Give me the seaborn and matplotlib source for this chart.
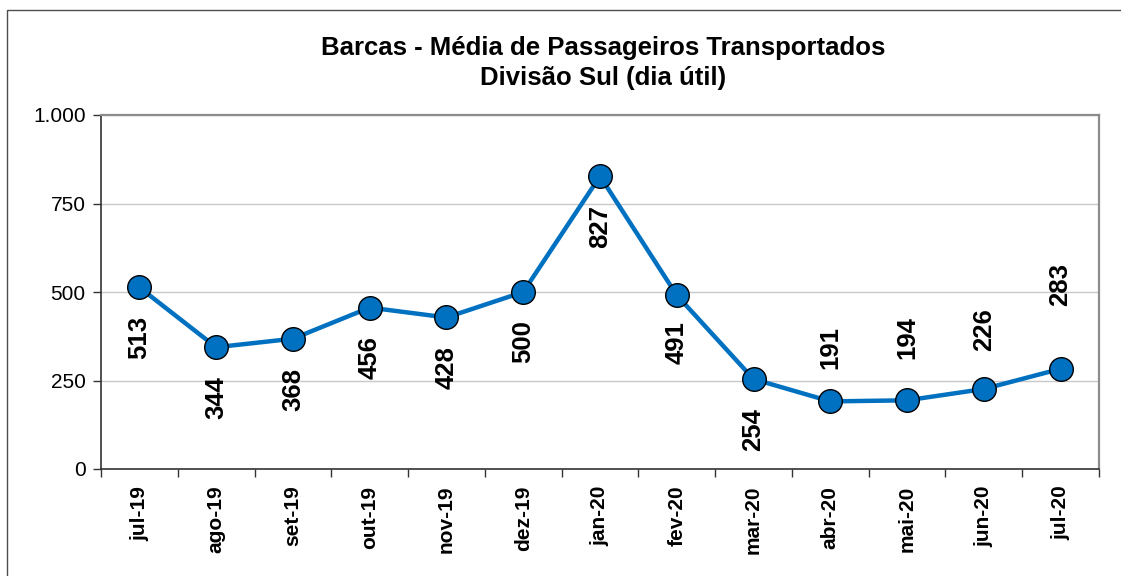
import matplotlib
matplotlib.use("Agg")
import matplotlib.pyplot as plt
from matplotlib.patches import Rectangle
from matplotlib.ticker import FuncFormatter, FixedLocator
import seaborn as sns
import pandas as pd

months = ["jul-19", "ago-19", "set-19", "out-19", "nov-19", "dez-19", "jan-20",
          "fev-20", "mar-20", "abr-20", "mai-20", "jun-20", "jul-20"]
passageiros = [513, 344, 368, 456, 428, 500, 827, 491, 254, 191, 194, 226, 283]
# label offset from the point, in points (negative = below the marker)
label_offset = [-20.5, -21, -21, -20.5, -20.5, -20.5, -21, -18.5, -21,
                23, 30, 27, 45]

df = pd.DataFrame({"mes": months, "valor": passageiros})
df["pos"] = range(len(df))

sns.set_theme(style="white")
plt.rcParams["font.family"] = ["Liberation Sans", "DejaVu Sans"]
plt.rcParams["text.color"] = "black"
plt.rcParams["xtick.color"] = "black"
plt.rcParams["ytick.color"] = "black"

fig = plt.figure(figsize=(11.21, 5.76), dpi=100)
ax = fig.add_axes([101 / 1121, 1 - 469 / 576, 998 / 1121, (469 - 115) / 576])

blue = "#0070C0"
sns.lineplot(data=df, x="pos", y="valor", ax=ax, color=blue, linewidth=3.2,
             marker="o", markersize=17, markerfacecolor=blue,
             markeredgecolor="black", markeredgewidth=1.0, zorder=3)

for i, (v, off) in enumerate(zip(passageiros, label_offset)):
    ax.annotate(f"{v}", (i, v), xytext=(0, off), textcoords="offset points",
                rotation=90, ha="center", va="top" if off < 0 else "bottom",
                fontsize=18.5, fontweight="bold", color="black", zorder=4)

ax.set_xlim(-0.5, len(months) - 0.5)
ax.set_ylim(0, 1000)
ax.set_yticks([0, 250, 500, 750, 1000])
ax.yaxis.set_major_formatter(FuncFormatter(lambda v, p: f"{int(v):,}".replace(",", ".")))
ax.grid(axis="y", color="#c8c8c8", linewidth=1.0)
ax.set_axisbelow(True)

ax.set_xticks(range(len(months)))
ax.set_xticklabels(months, rotation=90, fontweight="bold", fontsize=15)
ax.xaxis.set_minor_locator(FixedLocator([i - 0.5 for i in range(len(months) + 1)]))
ax.tick_params(axis="x", which="major", length=0, pad=12)
ax.tick_params(axis="x", which="minor", length=6, width=1, color="#333333", direction="out")
ax.tick_params(axis="y", length=6, width=1, color="#333333", direction="out",
               labelsize=15, pad=5)
ax.tick_params(axis="y", which="major", left=True)
ax.tick_params(axis="x", which="minor", bottom=True)

for side in ["left", "bottom"]:
    ax.spines[side].set_color("#333333")
    ax.spines[side].set_linewidth(1.2)
for side in ["top", "right"]:
    ax.spines[side].set_color("#8c8c8c")
    ax.spines[side].set_linewidth(1.6)

ax.set_xlabel("")
ax.set_ylabel("")

fig.text(603 / 1121, 1 - 48 / 576, "Barcas - Média de Passageiros Transportados",
         ha="center", va="center", fontsize=18.5, fontweight="bold")
fig.text(603 / 1121, 1 - 78 / 576, "Divisão Sul (dia útil)",
         ha="center", va="center", fontsize=18.5, fontweight="bold")

fig.patches.append(Rectangle((7 / 1121, -0.05), 1.1, 1 - 10 / 576 + 0.05,
                             transform=fig.transFigure, fill=False,
                             edgecolor="#4d4d4d", linewidth=1.0))

fig.savefig("out.png", dpi=100)
